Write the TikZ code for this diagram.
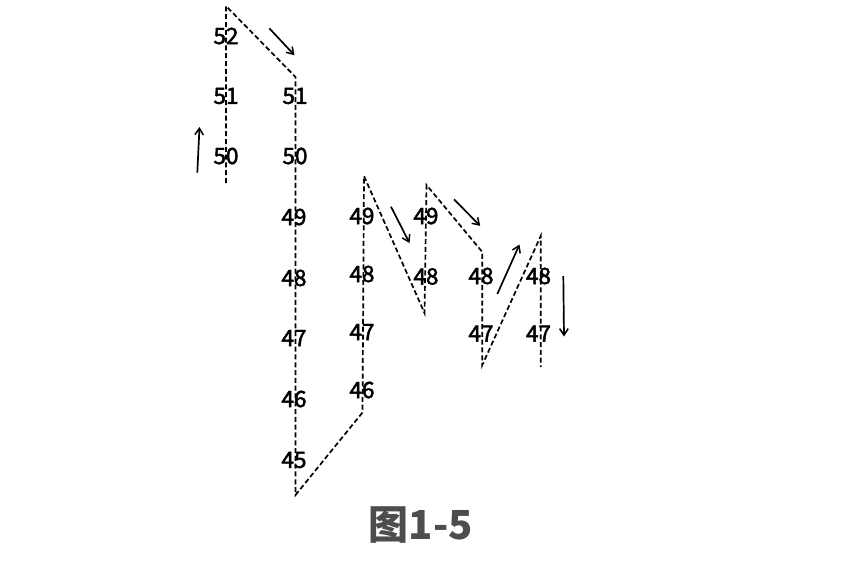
\documentclass[tikz,border=0pt]{standalone}
\usepackage{fontspec}
\setmainfont{Noto Sans CJK SC}
\newfontfamily\cjk{Noto Sans CJK SC}
\newfontfamily\numfont[FakeBold=2]{Noto Sans CJK SC}
\usetikzlibrary{arrows.meta}
\begin{document}
\begin{tikzpicture}[x=1pt,y=-1pt,
  trail/.style={dashed,dash pattern=on 5pt off 2.8pt,line width=1.7pt},
  num/.style={font=\numfont\fontsize{22.5}{24}\selectfont,inner sep=0pt,text=black,yshift=1pt},
  dir/.style={line width=1.7pt,-{Straight Barb[length=6.5pt,width=8.5pt,line width=1.5pt]}},
  titlebox/.style={font=\cjk\bfseries\fontsize{40}{44}\selectfont,text={rgb,255:red,77;green,77;blue,77},inner sep=0pt}]
\useasboundingbox (0,0) rectangle (850,566);
% path vertices
\coordinate (p1) at (226,183);
\coordinate (p2) at (226,6);
\coordinate (p3) at (295.5,77);
\coordinate (p4) at (295.5,495);
\coordinate (p5) at (362.5,412.5);
\coordinate (p6) at (364,176);
\coordinate (p7) at (424.5,313);
\coordinate (p8) at (426.5,185);
\coordinate (p9) at (482.3,252);
\coordinate (p10) at (482.3,365);
\coordinate (p11) at (540.7,236);
\coordinate (p12) at (540.7,367);
\draw[trail] (p1) -- (p2) -- (p3) -- (p4) -- (p5) -- (p6) -- (p7) -- (p8) -- (p9) -- (p10) -- (p11) -- (p12);
% labels
\node[num] (a52) at (226,37) {52};
\node[num] (a51) at (226,97) {51};
\node[num] (a50) at (226,157) {50};
\node[num] (b51) at (295,97) {51};
\node[num] (b50) at (295,157) {50};
\node[num] (b49) at (294,218) {49};
\node[num] (b48) at (294,279) {48};
\node[num] (b47) at (294,339) {47};
\node[num] (b46) at (294,400) {46};
\node[num] (b45) at (294,461) {45};
\node[num] (c49) at (362,217) {49};
\node[num] (c48) at (362,275) {48};
\node[num] (c47) at (362,333) {47};
\node[num] (c46) at (362,391) {46};
\node[num] (d49) at (426,217) {49};
\node[num] (d48) at (426,277.5) {48};
\node[num] (e48) at (481,277) {48};
\node[num] (e47) at (481,334.5) {47};
\node[num] (f48) at (538.5,277) {48};
\node[num] (f47) at (538.5,334.5) {47};
% direction arrows
\coordinate (u1) at (197.3,172.7); \coordinate (u2) at (199.5,127);
\coordinate (v1) at (269.3,28.3); \coordinate (v2) at (294.5,55.2);
\coordinate (w1) at (391,206.7); \coordinate (w2) at (409.5,243);
\coordinate (x1) at (454,199.3); \coordinate (x2) at (480.2,225.9);
\coordinate (y1) at (497.3,294); \coordinate (y2) at (519.5,244.5);
\coordinate (z1) at (563.3,276); \coordinate (z2) at (564,336.5);
\draw[dir] (u1) -- (u2);
\draw[dir] (v1) -- (v2);
\draw[dir] (w1) -- (w2);
\draw[dir] (x1) -- (x2);
\draw[dir] (y1) -- (y2);
\draw[dir] (z1) -- (z2);
% caption
\node[titlebox] (title) at (421,525) {图1-5};
\end{tikzpicture}
\end{document}
